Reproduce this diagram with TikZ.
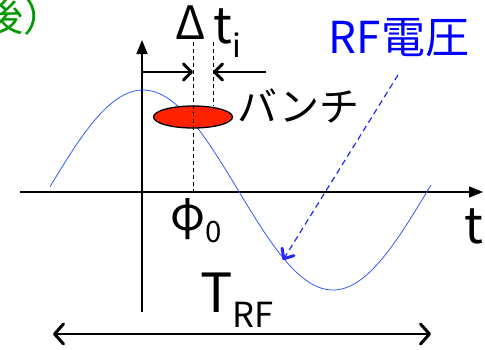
\documentclass[tikz,border=0pt]{standalone}
\usepackage{fontspec}
\setmainfont{Noto Sans CJK JP}
\usetikzlibrary{arrows.meta, shapes.geometric, positioning}
\definecolor{wavblue}{HTML}{2E5BFF}
\definecolor{labelblue}{HTML}{0000FF}
\definecolor{bunchred}{HTML}{FF2200}
\definecolor{notegreen}{HTML}{009900}
\newcommand\lowsub[1]{\raisebox{-0.28em}{\scalebox{0.64}{#1}}}

\begin{document}
\begin{tikzpicture}[x=1pt, y=-1pt,
  axis/.style={line width=1.6pt, -{Triangle[length=14pt,width=11pt]}},
  rfwave/.style={wavblue, line width=0.8pt},
  guide/.style={line width=0.8pt, dash pattern=on 4pt off 3pt},
  dimarrow/.style={line width=1.2pt,
    -{Straight Barb[length=8pt,width=16pt,line width=3pt,round]}},
  spanarrow/.style={line width=1.6pt,
    {Straight Barb[length=9pt,width=20pt,line width=3pt,round]}-{Straight Barb[length=9pt,width=20pt,line width=3pt,round]}},
  pointer/.style={labelblue!85!white, line width=1.2pt, dash pattern=on 6pt off 4pt,
    -{Straight Barb[length=8pt,width=14pt,line width=3pt,round]}},
  bunchshape/.style={ellipse, draw, line width=1.3pt, fill=bunchred,
    minimum width=79pt, minimum height=22pt, inner sep=0pt},
  bigtext/.style={font=\fontsize{54}{58}\selectfont, inner sep=0pt},
  midtext/.style={font=\fontsize{44}{48}\selectfont, inner sep=0pt}
]
  \useasboundingbox (0,0) rectangle (485,349);
  \clip (0,0) rectangle (485,349);

  % axes
  \coordinate (xstart) at (20,192);
  \coordinate (xend) at (483,192);
  \coordinate (ystart) at (142,312);
  \coordinate (yend) at (142,40);
  \draw[axis] (xstart) -- (xend);
  \draw[axis] (ystart) -- (yend);

  % RF voltage
  \draw[rfwave] plot[domain=50:431, samples=120]
    (\x, {190-100*cos((\x-143)/190*180)});

  % bunch
  \node[bunchshape] (bunch) at (193,117) {};
  \coordinate (phitop) at (193,42);
  \coordinate (phibot) at (193,192);
  \coordinate (dttop) at (213,42);
  \draw[guide] (phitop) -- (phibot);
  \draw[guide] (dttop) -- (dttop |- bunch.north);

  % width of bunch
  \coordinate (dtleft) at (142,72);
  \coordinate (dtright) at (266,72);
  \draw[dimarrow] (dtleft) -- (phitop |- dtleft);
  \draw[dimarrow] (dtright) -- (dttop |- dtright);

  % labels
  \node[bigtext, font=\fontsize{46}{50}\selectfont, anchor=base] (delta) at (190.5,39) {Δ};
  \node[bigtext, font=\fontsize{50}{54}\selectfont, anchor=base west] (ti) at (213,43) {t\lowsub{i}};
  \node[midtext, anchor=base, text=labelblue] (rflabel) at (399,53) {RF電圧};
  \node[midtext, font=\fontsize{40}{44}\selectfont, anchor=west] (bunchlabel) at (237,106) {バンチ};
  \node[bigtext, font=\fontsize{46}{50}\selectfont, anchor=base] (phi) at (196,230) {φ\lowsub{0}};
  \node[bigtext, font=\fontsize{50}{54}\selectfont, anchor=base] (tlabel) at (474,243) {t};
  \node[bigtext, anchor=base] (trf) at (237,312) {T\lowsub{RF}};
  \node[font=\fontsize{40}{44}\selectfont, inner sep=0pt, anchor=base east,
    text=notegreen] (note) at (64,31) {後）};

  % pointer to the wave
  \coordinate (wavehit) at (283,260);
  \draw[pointer] (398,75) -- (wavehit);

  % one period
  \coordinate (pleft) at (53,334);
  \coordinate (pright) at (431,334);
  \draw[spanarrow] (pleft) -- (pright);
\end{tikzpicture}
\end{document}
